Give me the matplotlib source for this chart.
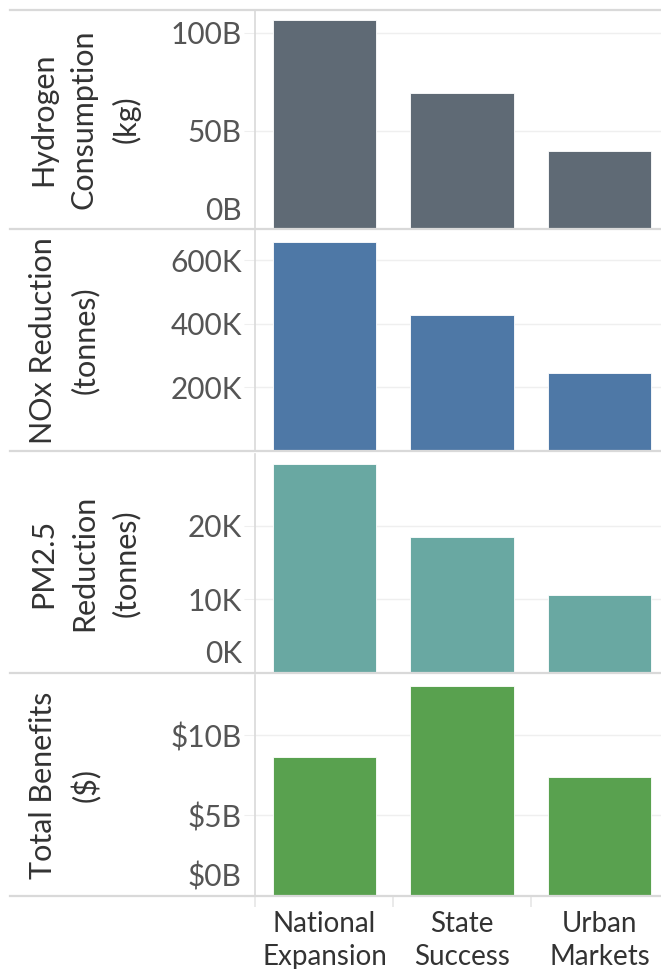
import matplotlib
matplotlib.use("Agg")
import matplotlib.pyplot as plt
from matplotlib.ticker import FixedLocator, FuncFormatter
from matplotlib.lines import Line2D
import matplotlib.transforms as mtransforms

plt.rcParams['font.family'] = ['Lato', 'DejaVu Sans']

# Kategori skenario
scenarios = ["National\nExpansion", "State\nSuccess", "Urban\nMarkets"]

# Nilai tiap panel
hydrogen_kg = [106.6e9, 69.2e9, 40.0e9]
nox_tonnes = [658e3, 427e3, 247e3]
pm25_tonnes = [28.5e3, 18.5e3, 10.6e3]
benefits_usd = [8.65e9, 13.05e9, 7.37e9]

# Label sumbu y dan tick
labels = ["Hydrogen\nConsumption\n(kg)", "NOx Reduction\n(tonnes)",
          "PM2.5\nReduction\n(tonnes)", "Total Benefits\n($)"]
ticks = [[0, 50e9, 100e9], [200e3, 400e3, 600e3], [0, 10e3, 20e3], [0, 5e9, 10e9]]
ymax = [111.7e9, 696e3, 29.8e3, 13.75e9]
colors = ["#5f6a75", "#4e78a6", "#69a8a2", "#59a14f"]


def fmt_b(v, pos):
    return f"{v / 1e9:.0f}B"


def fmt_k(v, pos):
    return f"{v / 1e3:.0f}K"


def fmt_usd(v, pos):
    return f"${v / 1e9:.0f}B"


formatters = [fmt_b, fmt_k, fmt_k, fmt_usd]
series = [hydrogen_kg, nox_tonnes, pm25_tonnes, benefits_usd]

W, H = 661, 969
fig = plt.figure(figsize=(W / 100, H / 100), dpi=100)

# posisi panel dalam piksel (atas, bawah)
rows = [(10, 229), (230, 451), (454, 672.6), (675, 895.6)]
left_px = 255

axes = []
for i, (top, bot) in enumerate(rows):
    ax = fig.add_axes([left_px / W, 1 - bot / H, 1 - left_px / W, (bot - top) / H])
    axes.append(ax)
    x = list(range(len(scenarios)))
    ax.bar(x, series[i], width=0.75, color=colors[i], edgecolor="white",
           linewidth=0.6, zorder=3)
    ax.set_xlim(-0.505, 2.447)
    ax.set_ylim(0, ymax[i])
    ax.yaxis.set_major_locator(FixedLocator(ticks[i]))
    ax.yaxis.set_major_formatter(FuncFormatter(formatters[i]))
    ax.grid(axis="y", color="#efefef", linewidth=1.0, zorder=0)
    ax.tick_params(axis="y", length=8, color="#efefef", labelsize=21.5,
                   labelcolor="#555555", pad=1.5)
    for s in ["top", "right", "bottom"]:
        ax.spines[s].set_visible(False)
    ax.spines["left"].set_color("#d9d9d9")
    ax.spines["left"].set_linewidth(1.2)

    # label nol digeser ke atas seperti Tableau
    for lab, t in zip(ax.get_yticklabels(), ticks[i]):
        if t == 0:
            lab.set_va("bottom")
            lab.set_transform(lab.get_transform() +
                              mtransforms.ScaledTranslation(0, 3 / 72, fig.dpi_scale_trans))

    # judul baris
    trans = mtransforms.blended_transform_factory(fig.transFigure, ax.transAxes)
    ax.text(29 / W, 0.5, labels[i], rotation=90, ha="left", va="center",
            multialignment="center", linespacing=1.56, fontsize=22,
            color="#333333", transform=trans)

    if i < 3:
        ax.tick_params(axis="x", bottom=False, labelbottom=False)
    else:
        ax.set_xticks(x)
        ax.set_xticklabels(scenarios)
        ax.tick_params(axis="x", length=0, labelsize=20, labelcolor="#333333",
                       pad=11)
        ax.xaxis.set_minor_locator(FixedLocator([-0.505, 0.5, 1.5]))
        ax.tick_params(axis="x", which="minor", length=8, color="#e6e6e6",
                       width=1.2)
        for lab in ax.get_xticklabels():
            lab.set_linespacing(1.36)

# garis pemisah baris
sep_y = [axes[0].get_position().y1] + [ax.get_position().y0 for ax in axes]
for yy in sep_y:
    fig.add_artist(Line2D([10 / W, 1], [yy, yy], color="#d9d9d9",
                          linewidth=1.6, transform=fig.transFigure))

fig.savefig("out.png", dpi=100)
